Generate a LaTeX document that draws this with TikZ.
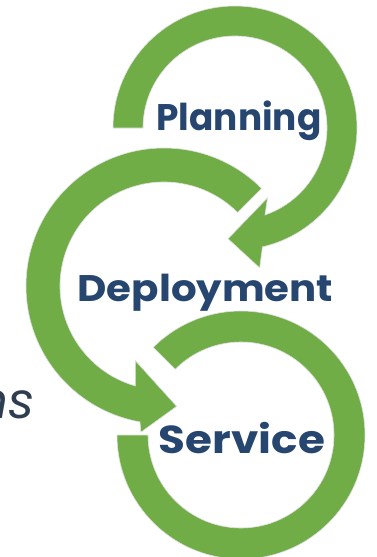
\documentclass[tikz,border=0pt]{standalone}
\usepackage{fontspec}
\setmainfont{Poppins}
\newfontfamily\labelfont{Poppins}
\usetikzlibrary{calc}
\definecolor{ringgreen}{HTML}{70AD47}
\definecolor{labelblue}{HTML}{264670}
\definecolor{slatetext}{HTML}{2E3D50}
\tikzset{
  ring/.style={fill=ringgreen, draw=black!12, line width=0.6pt, line join=miter},
  stagelabel/.style={font=\labelfont\bfseries\fontsize{37}{40}\selectfont, text=labelblue, inner sep=0pt, anchor=base},
}
\begin{document}
\begin{tikzpicture}[x=1pt,y=1pt]
\useasboundingbox (0,0) rectangle (377,-557);
\coordinate (P) at (235,-128);
\coordinate (D) at (164,-286);
\coordinate (S) at (241,-435);
% Planning ring with arrowhead
\path[ring] ($(P)+(180:122)$) arc[start angle=180,end angle=-77,radius=122]
  -- ($(P)+(-80:142)$) -- ($(P)+(-93.6:111)$) -- ($(P)+(-65:77)$)
  -- ($(P)+(-71:92)$) arc[start angle=-71,end angle=180,radius=92] -- cycle;
% Deployment ring with arrowhead
\path[ring] ($(D)+(45:138)$) arc[start angle=45,end angle=260,radius=138]
  -- ($(D)+(261:148)$) -- ($(D)+(276:121)$) -- ($(D)+(249:80)$)
  -- ($(D)+(254:104)$) arc[start angle=254,end angle=45,radius=104] -- cycle;
% Service ring
\path[ring] ($(S)+(180:124)$) arc[start angle=180,end angle=495,radius=124]
  -- ($(S)+(495:93)$) arc[start angle=495,end angle=180,radius=93] -- cycle;
% labels
\node[stagelabel, xscale=0.97] (planning) at (239,-130) {Planning};
\node[stagelabel, xscale=1.09] (deployment) at (205.5,-301) {Deployment};
\node[stagelabel, font=\labelfont\bfseries\fontsize{39}{42}\selectfont, xscale=1.12] (service) at (242,-453) {Service};
\node[font=\fontsize{50}{56}\selectfont\itshape, text=slatetext, inner sep=0pt, anchor=base east] (ns) at (35,-418) {ns};
\end{tikzpicture}
\end{document}
